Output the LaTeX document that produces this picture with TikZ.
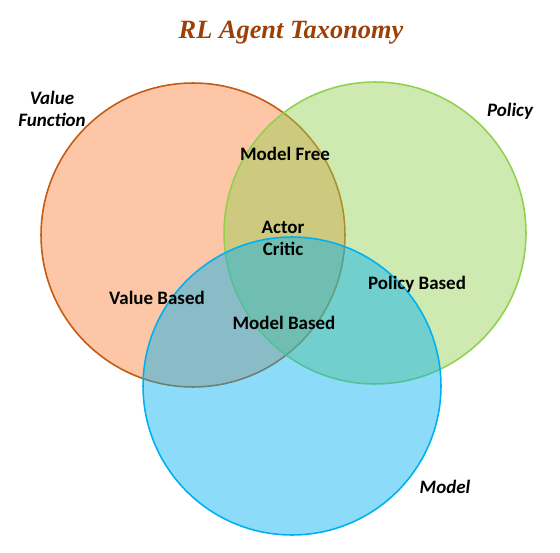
\documentclass[tikz,border=0pt]{standalone}
\usepackage{fontspec}
\setmainfont{Carlito}
\newfontfamily\titlefont{Liberation Serif}
\usetikzlibrary{positioning}

\definecolor{valueline}{RGB}{197,90,17}
\definecolor{valuefill}{RGB}{251,128,60}
\definecolor{policyline}{RGB}{146,208,80}
\definecolor{modelline}{RGB}{0,176,240}
\definecolor{titlecol}{RGB}{156,64,8}

\begin{document}
\begin{tikzpicture}[x=0.02cm, y=-0.02cm, line width=0.9pt,
    set/.style={circle, draw, fill opacity=0.45, draw opacity=1},
    region/.style={font=\bfseries\fontsize{10.8}{12.5}\selectfont, align=center},
    setname/.style={font=\bfseries\itshape\fontsize{10.8}{12.8}\selectfont, align=center}]
      \useasboundingbox (0,0) rectangle (560,553);

      % the three sets
      \node[set, draw=valueline, fill=valuefill, minimum size=6.08cm] (value) at (193,235) {};
      \node[set, draw=policyline, fill=policyline, minimum size=6.04cm] (policy) at (375,233) {};
      \node[set, draw=modelline, fill=modelline, minimum size=5.96cm] (model) at (292,386) {};

      \node[font=\titlefont\bfseries\itshape\fontsize{15}{17}\selectfont, text=titlecol] (title) at (291,33) {RL Agent Taxonomy};

      % set names
      \node[setname] (valuename) at (52,109) {Value\\Function};
      \node[setname] (policyname) at (510,111) {Policy};
      \node[setname] (modelname) at (445,487) {Model};

      % regions
      \node[region] (free) at (285,154) {Model Free};
      \node[region] (ac) at (283,238) {Actor\\Critic};
      \node[region] (vb) at (157,298) {Value Based};
      \node[region] (pb) at (417,284) {Policy Based};
      \node[region] (mb) at (284,323) {Model Based};
    \end{tikzpicture}
\end{document}
